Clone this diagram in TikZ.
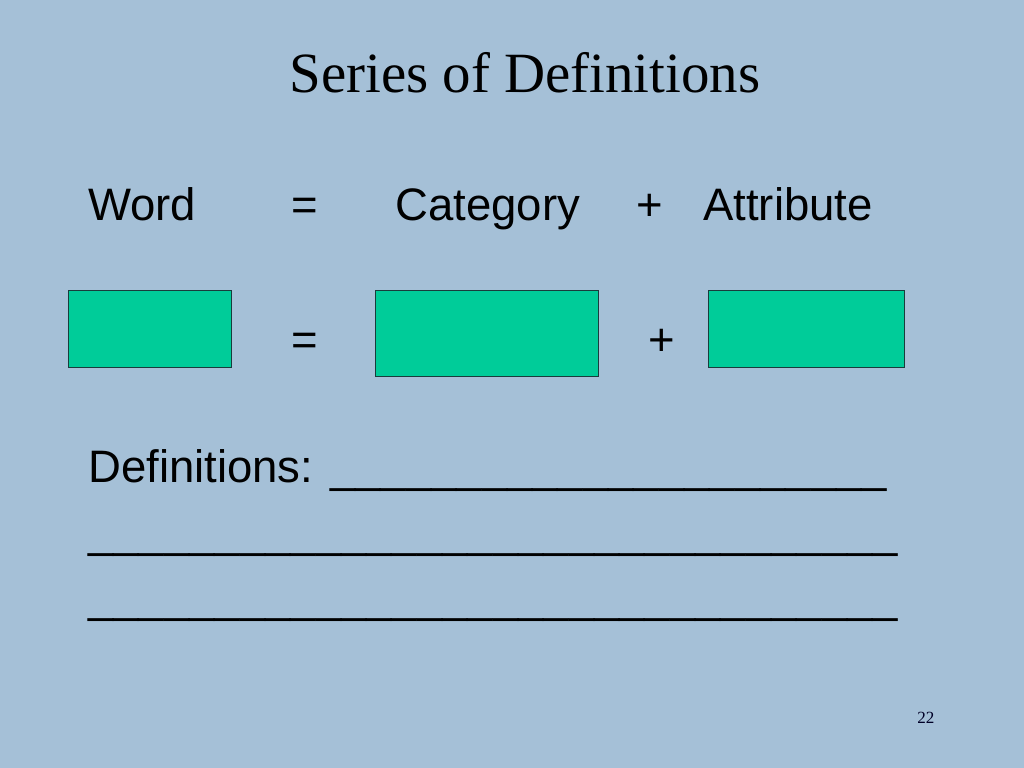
\documentclass[tikz,border=0pt]{standalone}
\usepackage{fontspec}
\setmainfont{Liberation Sans}
\newfontfamily\titlefont{Liberation Serif}
\usepackage{tikz}
\usepackage{xcolor}
\definecolor{slidebg}{RGB}{165,192,215}
\definecolor{boxfill}{RGB}{0,204,153}
\definecolor{boxline}{RGB}{25,60,60}
\newcommand{\blanks}[1]{\foreach \i in {1,...,#1}{\_}}

\begin{document}
\begin{tikzpicture}[
    x=0.703125pt, y=-0.703125pt,
    txt/.style={anchor=base west,inner sep=0pt,font=\fontsize{32}{38}\selectfont},
    sym/.style={anchor=base,inner sep=0pt,font=\fontsize{32}{38}\selectfont},
    slot/.style={draw=boxline,fill=boxfill,line width=0.8pt,anchor=north west,inner sep=0pt}
]
% Background of the slide
\fill[slidebg] (0,0) rectangle (1024,768);
% Title
\node[anchor=base,inner sep=0pt,font=\titlefont\fontsize{40}{48}\selectfont] (title) at (525,93) {Series of Definitions};
% Top row - the words
\node[txt] (word) at (88,221) {Word};
\node[sym] (eqA) at (305,221) {=};
\node[txt] (category) at (395,221) {Category};
\node[sym] (plusA) at (650,221) {+};
\node[txt] (attribute) at (703,221) {Attribute};
% Second row - the empty boxes
\node[slot,minimum width=163*0.703125pt,minimum height=77*0.703125pt] (wordbox) at (68,290) {};
\node[sym] (eqB) at (305,355) {=};
\node[slot,minimum width=223*0.703125pt,minimum height=86*0.703125pt] (catbox) at (375,290) {};
\node[sym] (plusB) at (662,355) {+};
\node[slot,minimum width=196*0.703125pt,minimum height=77*0.703125pt] (attrbox) at (708,290) {};
% Definitions with blank lines
\node[txt] (defs) at (88,482) {Definitions: \blanks{22}};
\node[txt] (blankA) at (88,547) {\blanks{32}};
\node[txt] (blankB) at (88,612) {\blanks{32}};
% Page number
\node[anchor=base west,inner sep=0pt,font=\titlefont\fontsize{12}{14}\selectfont,text=black!85!blue] (page) at (917,723) {22};
\end{tikzpicture}
\end{document}
